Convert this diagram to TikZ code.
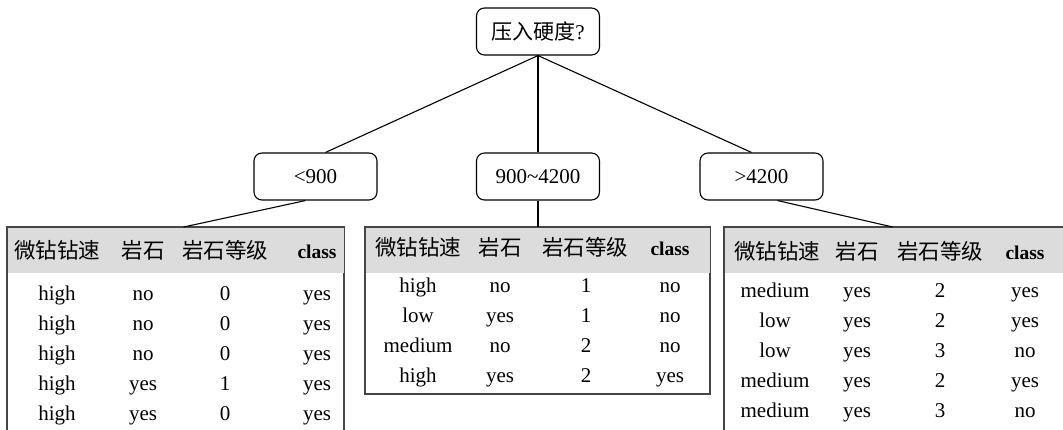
\documentclass[tikz,border=0pt]{standalone}
\usepackage{fontspec}
\setmainfont{Liberation Serif}
\newfontfamily\cjk{Noto Sans CJK SC}
\definecolor{hdr}{RGB}{220,220,220}
\definecolor{frm}{RGB}{70,70,70}
\tikzset{
  box/.style={draw=black, line width=1.1pt, rounded corners=8pt, minimum width=123pt, minimum height=47pt, inner sep=0pt, font=\fontsize{21}{23}\selectfont},
  link/.style={draw=black, line width=1.1pt},
  tframe/.style={draw=frm, line width=1.4pt, anchor=north west, inner sep=0pt},
  cell/.style={inner sep=0pt, text height=0.7em, text depth=0.22em, font=\fontsize{21}{23}\selectfont},
  hcell/.style={inner sep=0pt, text height=0.72em, text depth=0.15em, font=\fontsize{21.5}{23}\selectfont\cjk},
  ccell/.style={inner sep=0pt, text height=0.72em, text depth=0.15em, font=\fontsize{19.5}{21}\selectfont\bfseries}
}
\begin{document}
\begin{tikzpicture}[x=1pt,y=-1pt]
\useasboundingbox[fill=white] (0,0) rectangle (1063,429);
\begin{scope}
\clip (0,0) rectangle (1063,429);
% tree nodes
\node[box] (root) at (538,31.5) {\cjk 压入硬度\fontsize{21}{23}\selectfont\rmfamily ?};
\node[box] (b1) at (315.5,176.5) {<900};
\node[box] (b2) at (538,176.5) {900\textasciitilde 4200};
\node[box] (b3) at (761.5,176.5) {>4200};
% table frames
\node[tframe, minimum width=336pt, minimum height=230pt] (t1) at (7,227) {};
\node[tframe, minimum width=344pt, minimum height=166pt] (t2) at (365,227) {};
\node[tframe, minimum width=360pt, minimum height=230pt] (t3) at (724,227) {};
% header bands
\fill[hdr] (t1.north west) rectangle ([yshift=-46pt]t1.north east);
\fill[hdr] (t2.north west) rectangle ([yshift=-46pt]t2.north east);
\fill[hdr] (t3.north west) rectangle ([yshift=-46pt]t3.north east);
\draw[frm, line width=1.4pt] (t1.north west) rectangle (t1.south east);
\draw[frm, line width=1.4pt] (t2.north west) rectangle (t2.south east);
\draw[frm, line width=1.4pt] (t3.north west) rectangle (t3.south east);
% connectors
\draw[link] (root.south) -- ([xshift=10pt]b1.north);
\draw[link] (root.south) -- (b2.north);
\draw[link] (root.south) -- ([xshift=-10pt]b3.north);
\draw[link] ([xshift=-10pt]b1.south) -- ([xshift=8pt]t1.north);
\draw[link] (b2.south) -- (t2.north -| b2.south);
\draw[link] ([xshift=16pt]b3.south) -- ([xshift=-12pt]t3.north);
% table 1
\node[hcell] (t1h1) at (57,256) {微钻钻速};
\node[hcell] (t1h2) at (143,256) {岩石};
\node[hcell] (t1h3) at (225,256) {岩石等级};
\node[ccell] (t1h4) at (317,256) {class};
\foreach \a/\b/\c/\d [count=\i] in {high/no/0/yes, high/no/0/yes, high/no/0/yes, high/yes/1/yes, high/yes/0/yes}{
  \node[cell] (t1r\i c1) at (57,268+30*\i) {\a};
  \node[cell] (t1r\i c2) at (143,268+30*\i) {\b};
  \node[cell] (t1r\i c3) at (225,268+30*\i) {\c};
  \node[cell] (t1r\i c4) at (317,268+30*\i) {\d};
}
% table 2
\node[hcell] (t2h1) at (418,253) {微钻钻速};
\node[hcell] (t2h2) at (500,253) {岩石};
\node[hcell] (t2h3) at (585,253) {岩石等级};
\node[ccell] (t2h4) at (670,253) {class};
\foreach \a/\b/\c/\d [count=\i] in {high/no/1/no, low/yes/1/no, medium/no/2/no, high/yes/2/yes}{
  \node[cell] (t2r\i c1) at (418,260+30*\i) {\a};
  \node[cell] (t2r\i c2) at (500,260+30*\i) {\b};
  \node[cell] (t2r\i c3) at (586,260+30*\i) {\c};
  \node[cell] (t2r\i c4) at (670,260+30*\i) {\d};
}
% table 3
\node[hcell] (t3h1) at (777,257) {微钻钻速};
\node[hcell] (t3h2) at (857,257) {岩石};
\node[hcell] (t3h3) at (940,257) {岩石等级};
\node[ccell] (t3h4) at (1025,257) {class};
\foreach \a/\b/\c/\d [count=\i] in {medium/yes/2/yes, low/yes/2/yes, low/yes/3/no, medium/yes/2/yes, medium/yes/3/no}{
  \node[cell] (t3r\i c1) at (775,265+30*\i) {\a};
  \node[cell] (t3r\i c2) at (857,265+30*\i) {\b};
  \node[cell] (t3r\i c3) at (940,265+30*\i) {\c};
  \node[cell] (t3r\i c4) at (1025,265+30*\i) {\d};
}
\end{scope}
\end{tikzpicture}
\end{document}
